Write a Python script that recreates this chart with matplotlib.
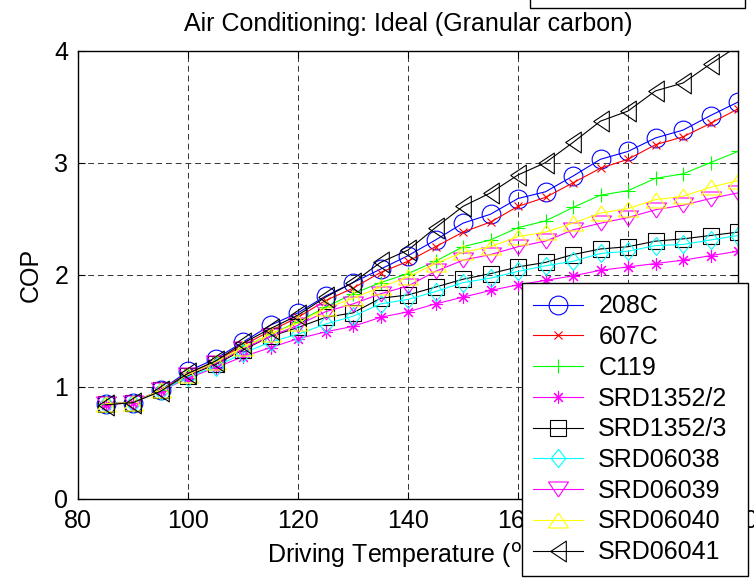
import matplotlib
matplotlib.use("Agg")
import matplotlib.pyplot as plt
from matplotlib.patches import Rectangle

plt.rcParams["font.family"] = ["Liberation Sans", "DejaVu Sans"]

# driving temperature (deg C)
temps = [85, 90, 95, 100, 105, 110, 115, 120, 125, 130, 135, 140,
         145, 150, 155, 160, 165, 170, 175, 180, 185, 190, 195, 200]

cop_208c = [0.85, 0.86, 0.97, 1.14, 1.25, 1.40, 1.55, 1.66, 1.81, 1.93, 2.05, 2.17,
            2.31, 2.46, 2.54, 2.68, 2.74, 2.88, 3.03, 3.10, 3.22, 3.29, 3.42, 3.54]
cop_607c = [0.85, 0.86, 0.97, 1.12, 1.23, 1.37, 1.50, 1.62, 1.77, 1.88, 2.02, 2.12,
            2.25, 2.38, 2.47, 2.61, 2.69, 2.82, 2.95, 3.03, 3.16, 3.23, 3.35, 3.48]
cop_c119 = [0.85, 0.86, 0.97, 1.11, 1.22, 1.35, 1.47, 1.58, 1.71, 1.83, 1.93, 2.01,
            2.12, 2.25, 2.31, 2.42, 2.48, 2.60, 2.71, 2.75, 2.86, 2.90, 3.00, 3.10]
cop_srd1352_2 = [0.84, 0.86, 0.96, 1.08, 1.17, 1.27, 1.35, 1.43, 1.49, 1.54, 1.62, 1.67,
                 1.74, 1.80, 1.86, 1.91, 1.95, 1.99, 2.04, 2.07, 2.10, 2.13, 2.17, 2.21]
cop_srd1352_3 = [0.85, 0.86, 0.97, 1.10, 1.20, 1.33, 1.45, 1.53, 1.62, 1.66, 1.79, 1.82,
                 1.89, 1.96, 2.01, 2.07, 2.11, 2.18, 2.23, 2.25, 2.30, 2.32, 2.35, 2.38]
cop_srd06038 = [0.85, 0.86, 0.96, 1.09, 1.18, 1.30, 1.40, 1.47, 1.56, 1.63, 1.74, 1.78,
                1.85, 1.93, 1.97, 2.03, 2.08, 2.12, 2.19, 2.21, 2.26, 2.27, 2.31, 2.35]
cop_srd06039 = [0.85, 0.86, 0.97, 1.11, 1.21, 1.34, 1.45, 1.55, 1.67, 1.74, 1.83, 1.90,
                2.03, 2.13, 2.18, 2.25, 2.30, 2.40, 2.46, 2.51, 2.58, 2.62, 2.68, 2.73]
cop_srd06040 = [0.85, 0.86, 0.97, 1.11, 1.22, 1.35, 1.47, 1.57, 1.70, 1.79, 1.89, 1.98,
                2.10, 2.20, 2.25, 2.34, 2.38, 2.46, 2.55, 2.59, 2.67, 2.70, 2.78, 2.84]
cop_srd06041 = [0.84, 0.86, 0.96, 1.12, 1.23, 1.39, 1.52, 1.64, 1.80, 1.93, 2.11, 2.22,
                2.42, 2.61, 2.73, 2.89, 3.00, 3.18, 3.37, 3.46, 3.64, 3.71, 3.88, 4.04]

# matlab-style markers (triangles wider than tall, tall diamond)
tri_up = [(0, 0.75), (-1, -0.75), (1, -0.75), (0, 0.75)]
tri_down = [(0, -0.75), (-1, 0.75), (1, 0.75), (0, -0.75)]
tri_left = [(-0.75, 0), (0.75, 1), (0.75, -1), (-0.75, 0)]
diamond = [(0, 1), (-0.8, 0), (0, -1), (0.8, 0), (0, 1)]

series = [
    ("208C", cop_208c, "#0000ff", "o", 13.5),
    ("607C", cop_607c, "#ff0000", "x", 6),
    ("C119", cop_c119, "#00ff00", "+", 10.5),
    ("SRD1352/2", cop_srd1352_2, "#ff00ff", (8, 2, 0), 9),
    ("SRD1352/3", cop_srd1352_3, "#000000", "s", 11),
    ("SRD06038", cop_srd06038, "#00ffff", diamond, 13),
    ("SRD06039", cop_srd06039, "#ff00ff", tri_down, 14.4),
    ("SRD06040", cop_srd06040, "#ffff00", tri_up, 14.4),
    ("SRD06041", cop_srd06041, "#000000", tri_left, 15),
]

fig = plt.figure(figsize=(7.54, 5.80), dpi=100)
ax = fig.add_axes([78 / 754, 1 - 499 / 580, 660 / 754, 448.5 / 580])

for name, vals, col, mk, ms in series:
    ax.plot(temps, vals, color=col, lw=0.8, marker=mk, ms=ms,
            mfc="none", mec=col, mew=0.8, label=name)

ax.set_xlim(80, 200)
ax.set_ylim(0, 4)
ax.set_xticks(range(80, 201, 20))
ax.set_yticks(range(0, 5))
ax.grid(True, color="0.2", lw=0.7, ls=(0, (6, 4)))
ax.tick_params(direction="in", length=5, labelsize=18, top=True, right=True, pad=7)
for sp in ax.spines.values():
    sp.set_linewidth(1.0)

ax.set_title("Air Conditioning: Ideal (Granular carbon)", fontsize=18, pad=14)
ax.set_xlabel("Driving Temperature ($^{\\mathrm{o}}$C)", fontsize=18, labelpad=6)
ax.set_ylabel("COP", fontsize=18, labelpad=8)

leg = ax.legend(loc="upper left",
                bbox_to_anchor=(522 / 754, 1 - 577 / 580, 226 / 754, 294 / 580),
                bbox_transform=fig.transFigure, mode="expand", borderaxespad=0,
                fontsize=18, fancybox=False, framealpha=1, edgecolor="k",
                labelspacing=0.27, handlelength=2.0, handletextpad=0.6,
                borderpad=0.45)
leg.get_frame().set_linewidth(1.0)
leg.set_zorder(10)

# empty box cut off at the top edge
fig.patches.append(Rectangle((530 / 754, 1 - 8 / 580), 215 / 754, 0.1,
                             transform=fig.transFigure, fill=False, lw=1.0,
                             ec="k"))

fig.savefig("out.png", dpi=100)
